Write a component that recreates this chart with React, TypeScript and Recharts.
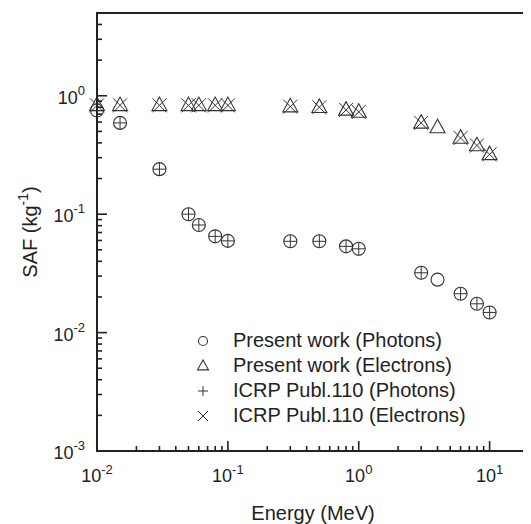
import { Scatter, ScatterChart, XAxis, YAxis } from "recharts";

const energies = [0.01, 0.015, 0.03, 0.05, 0.06, 0.08, 0.1, 0.3, 0.5, 0.8, 1, 3, 4, 6, 8, 10];
const photonsPresent = [0.75, 0.59, 0.24, 0.1, 0.081, 0.065, 0.0595, 0.059, 0.059, 0.0535, 0.051, 0.032, 0.028, 0.0213, 0.0175, 0.0148];
const electronsPresent = [0.83, 0.83, 0.83, 0.83, 0.83, 0.83, 0.83, 0.81, 0.8, 0.76, 0.73, 0.59, 0.54, 0.44, 0.38, 0.32];

const icrpEnergies = [0.01, 0.015, 0.03, 0.05, 0.06, 0.08, 0.1, 0.3, 0.5, 0.8, 1, 3, 6, 8, 10];
const photonsIcrp = [0.75, 0.59, 0.24, 0.1, 0.081, 0.065, 0.0595, 0.059, 0.059, 0.0535, 0.051, 0.032, 0.0213, 0.0175, 0.0148];
const electronsIcrp = [0.83, 0.83, 0.83, 0.83, 0.83, 0.83, 0.83, 0.81, 0.8, 0.76, 0.73, 0.59, 0.44, 0.38, 0.32];

const xTicks = [0.01, 0.02, 0.03, 0.04, 0.05, 0.06, 0.07, 0.08, 0.09, 0.1, 0.2, 0.3, 0.4, 0.5, 0.6, 0.7, 0.8, 0.9, 1, 2, 3, 4, 5, 6, 7, 8, 9, 10];
const yTicks = [0.001, 0.002, 0.003, 0.004, 0.005, 0.006, 0.007, 0.008, 0.009, 0.01, 0.02, 0.03, 0.04, 0.05, 0.06, 0.07, 0.08, 0.09, 0.1, 0.2, 0.3, 0.4, 0.5, 0.6, 0.7, 0.8, 0.9, 1, 2, 3, 4];

const legendLabels = [
  "Present work (Photons)",
  "Present work (Electrons)",
  "ICRP Publ.110 (Photons)",
  "ICRP Publ.110 (Electrons)",
];

const FONT = "'Liberation Sans', Arial, sans-serif";
const INK = "#222";
const MARK = "#333";

// plot box inside the chart svg
const W = 523;
const H = 516;
const PLOT = { left: 89, right: 521, top: 5, bottom: 443 };

const toPoints = (xs: number[], ys: number[]) => xs.map((x, i) => ({ x, y: ys[i] }));

const isMajor = (v: number) => Math.abs(Math.log10(v) - Math.round(Math.log10(v))) < 1e-6;
const expOf = (v: number) => Math.round(Math.log10(v));

function BottomTick({ x, payload }: any) {
  const v = payload.value;
  const major = isMajor(v);
  const y = PLOT.bottom;
  return (
    <g>
      <line x1={x} y1={y} x2={x} y2={y - (major ? 10 : 5)} stroke={INK} strokeWidth={1.6} />
      {major && (
        <text x={x} y={y + 31} textAnchor="middle" fontSize={18} fontFamily={FONT} fill={INK}>
          10
          <tspan fontSize={13} dy={-8}>
            {expOf(v)}
          </tspan>
        </text>
      )}
    </g>
  );
}

function TopTick({ x, payload }: any) {
  const major = isMajor(payload.value);
  const y = PLOT.top;
  return <line x1={x} y1={y} x2={x} y2={y + (major ? 10 : 5)} stroke={INK} strokeWidth={1.6} />;
}

function LeftTick({ y, payload }: any) {
  const v = payload.value;
  const major = isMajor(v);
  const x = PLOT.left;
  return (
    <g>
      <line x1={x} y1={y} x2={x + (major ? 10 : 5)} y2={y} stroke={INK} strokeWidth={1.6} />
      {major && (
        <text x={x - 12} y={y + 8} textAnchor="end" fontSize={18} fontFamily={FONT} fill={INK}>
          10
          <tspan fontSize={13} dy={-9}>
            {expOf(v)}
          </tspan>
        </text>
      )}
    </g>
  );
}

function RightTick({ y, payload }: any) {
  const major = isMajor(payload.value);
  const x = PLOT.right;
  return <line x1={x} y1={y} x2={x - (major ? 10 : 5)} y2={y} stroke={INK} strokeWidth={1.6} />;
}

const circle = (s: number) => ({ cx, cy }: any) => (
  <circle cx={cx} cy={cy} r={s} fill="none" stroke={MARK} strokeWidth={1.1} />
);
const triangle = (s: number) => ({ cx, cy }: any) => (
  <path
    d={`M${cx},${cy - s * 1.1} L${cx - s},${cy + s * 0.7} L${cx + s},${cy + s * 0.7} Z`}
    fill="none"
    stroke={MARK}
    strokeWidth={1.1}
  />
);
const plus = (s: number) => ({ cx, cy }: any) => (
  <path d={`M${cx - s},${cy} H${cx + s} M${cx},${cy - s} V${cy + s}`} stroke={MARK} strokeWidth={1} />
);
const cross = (s: number) => ({ cx, cy }: any) => (
  <path
    d={`M${cx - s},${cy - s} L${cx + s},${cy + s} M${cx - s},${cy + s} L${cx + s},${cy - s}`}
    stroke={MARK}
    strokeWidth={1}
  />
);

const legendShapes = [circle(4.5), triangle(5.5), plus(5), cross(5)];

function XLabel() {
  return (
    <text
      x={(PLOT.left + PLOT.right) / 2}
      y={PLOT.bottom + 69}
      textAnchor="middle"
      fontSize={20}
      fontFamily={FONT}
      fill={INK}
    >
      Energy (MeV)
    </text>
  );
}

function YLabel() {
  const cx = 29;
  const cy = (PLOT.top + PLOT.bottom) / 2;
  return (
    <text
      x={cx}
      y={cy}
      transform={`rotate(-90 ${cx} ${cy})`}
      textAnchor="middle"
      fontSize={20}
      fontFamily={FONT}
      fill={INK}
    >
      SAF (kg
      <tspan fontSize={14} dy={-9}>
        -1
      </tspan>
      <tspan dy={9}>)</tspan>
    </text>
  );
}

export default function App() {
  return (
    <div style={{ position: "relative", width: W, height: H, background: "#fff" }}>
      <ScatterChart width={W} height={H} margin={{ top: PLOT.top, right: W - PLOT.right, bottom: 0, left: 0 }}>
        <XAxis
          xAxisId="bottom"
          dataKey="x"
          type="number"
          scale="log"
          domain={[0.01, 20]}
          ticks={xTicks}
          interval={0}
          tickSize={0}
          tickMargin={0}
          height={H - PLOT.bottom}
          axisLine={false}
          tickLine={false}
          tick={<BottomTick />}
          label={<XLabel />}
        />
        <XAxis
          xAxisId="top"
          orientation="top"
          dataKey="x"
          type="number"
          scale="log"
          domain={[0.01, 20]}
          ticks={xTicks}
          interval={0}
          tickSize={0}
          tickMargin={0}
          height={0}
          axisLine={false}
          tickLine={false}
          tick={<TopTick />}
        />
        <YAxis
          yAxisId="left"
          dataKey="y"
          type="number"
          scale="log"
          domain={[0.001, 5]}
          ticks={yTicks}
          interval={0}
          tickSize={0}
          tickMargin={0}
          width={PLOT.left}
          axisLine={false}
          tickLine={false}
          tick={<LeftTick />}
          label={<YLabel />}
        />
        <YAxis
          yAxisId="right"
          orientation="right"
          dataKey="y"
          type="number"
          scale="log"
          domain={[0.001, 5]}
          ticks={yTicks}
          interval={0}
          tickSize={0}
          tickMargin={0}
          width={0}
          axisLine={false}
          tickLine={false}
          tick={<RightTick />}
        />
        <Scatter
          name={legendLabels[0]}
          xAxisId="bottom"
          yAxisId="left"
          data={toPoints(energies, photonsPresent)}
          shape={circle(6.5)}
          isAnimationActive={false}
        />
        <Scatter
          name={legendLabels[1]}
          xAxisId="bottom"
          yAxisId="left"
          data={toPoints(energies, electronsPresent)}
          shape={triangle(7.5)}
          isAnimationActive={false}
        />
        <Scatter
          name={legendLabels[2]}
          xAxisId="bottom"
          yAxisId="left"
          data={toPoints(icrpEnergies, photonsIcrp)}
          shape={plus(6.5)}
          isAnimationActive={false}
        />
        <Scatter
          name={legendLabels[3]}
          xAxisId="bottom"
          yAxisId="left"
          data={toPoints(icrpEnergies, electronsIcrp)}
          shape={cross(7)}
          isAnimationActive={false}
        />
      </ScatterChart>
      {/* plot frame */}
      <svg
        width={W}
        height={H}
        style={{ position: "absolute", left: 0, top: 0, pointerEvents: "none" }}
      >
        <rect
          x={PLOT.left}
          y={PLOT.top}
          width={PLOT.right - PLOT.left}
          height={PLOT.bottom - PLOT.top}
          fill="none"
          stroke={INK}
          strokeWidth={2}
        />
      </svg>
      <div style={{ position: "absolute", left: 185, top: 320, fontFamily: FONT, fontSize: 20, color: INK }}>
        {legendLabels.map((label, i) => {
          const Shape = legendShapes[i];
          return (
            <div key={label} style={{ display: "flex", alignItems: "center", height: 25 }}>
              <svg width={20} height={20} style={{ flex: "none" }}>
                <Shape cx={10} cy={10} />
              </svg>
              <span style={{ marginLeft: 20, whiteSpace: "nowrap", lineHeight: "25px" }}>{label}</span>
            </div>
          );
        })}
      </div>
    </div>
  );
}
